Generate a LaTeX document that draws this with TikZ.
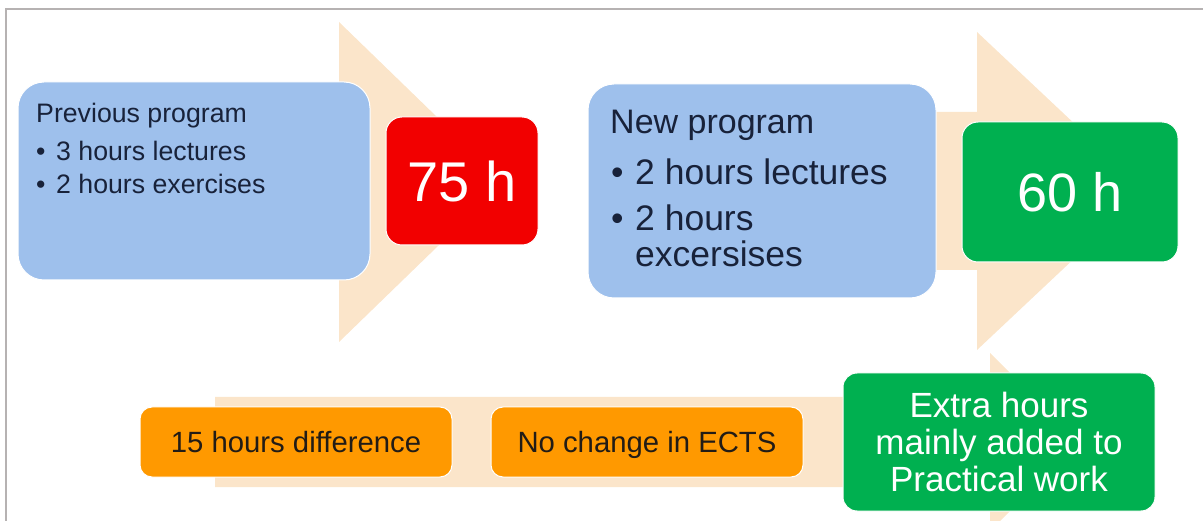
\documentclass[tikz,border=0pt]{standalone}
\usepackage{fontspec}
\setmainfont{Liberation Sans}
\usetikzlibrary{positioning}

\definecolor{peach}{RGB}{251,229,202}
\definecolor{progblue}{RGB}{158,192,236}
\definecolor{progtext}{RGB}{24,34,58}
\definecolor{hoursred}{RGB}{242,0,0}
\definecolor{hoursgreen}{RGB}{0,176,80}
\definecolor{noteorange}{RGB}{255,153,0}
\definecolor{notetext}{RGB}{34,28,22}
\definecolor{frame}{RGB}{182,178,178}

\begin{document}
\begin{tikzpicture}[x=1pt, y=-1pt,
  prog/.style = {fill=progblue, draw=white, line width=1pt, rounded corners=26pt},
  hours/.style = {draw=white, line width=1pt, rounded corners=16pt, text=white},
  note/.style = {fill=noteorange, draw=white, line width=1pt, rounded corners=12pt,
                 minimum width=312pt, minimum height=70pt, text=notetext, text depth=0pt,
                 font=\fontsize{29.3}{35}\selectfont}]
\useasboundingbox (0,0) rectangle (1203,521);
\draw[frame, line width=2pt] (6,521) -- (6,9) -- (1203,9);

% big arrows behind the boxes
\begin{scope}
\clip (0,0) rectangle (1203,521);
\fill[peach] (60,103) -- (339,103) -- (339,22) -- (504,182) -- (339,342) -- (339,261) -- (60,261) -- cycle;
\fill[peach] (640,112) -- (977,112) -- (977,32) -- (1146,191) -- (977,350) -- (977,270) -- (640,270) -- cycle;
\fill[peach] (215,397) -- (990,397) -- (990,353) -- (1080,442) -- (990,531) -- (990,487) -- (215,487) -- cycle;
\end{scope}

\node[prog, minimum width=352pt, minimum height=198pt] (prev) at (194,181) {};
\node[anchor=north west, align=left, inner sep=0pt, text=progtext, font=\fontsize{26.7}{33}\selectfont]
  (prevtext) at (36,103) {Previous program\\[5pt]
  \makebox[20pt][l]{•}3 hours lectures\\
  \makebox[20pt][l]{•}2 hours exercises};
\node[hours, fill=hoursred, minimum width=152pt, minimum height=128pt, font=\fontsize{56}{60}\selectfont]
  (old) at (462,181) {75 h};

\node[prog, minimum width=348pt, minimum height=214pt] (new) at (762,191) {};
\node[anchor=base west, inner sep=0pt, text=progtext, font=\fontsize{34}{36}\selectfont]
  (newhead) at (610,134) {New program};
\node[anchor=north west, align=left, inner sep=0pt, text=progtext, font=\fontsize{35.5}{36.5}\selectfont]
  (newtext) at (611,159) {\makebox[24pt][l]{•}2 hours lectures\\[9pt]
  \makebox[24pt][l]{•}2 hours\\
  \hspace*{24pt}excersises};
\node[hours, fill=hoursgreen, minimum width=216pt, minimum height=140pt, font=\fontsize{54}{58}\selectfont]
  (now) at (1070,192) {60 h};

\node[note] (diff) at (296,442) {15 hours difference};
\node[note] (ects) at (647,442) {No change in ECTS};
\node[hours, fill=hoursgreen, rounded corners=14pt, minimum width=312pt, minimum height=138pt,
  align=center, font=\fontsize{35}{37}\selectfont] (extra) at (999,442)
  {Extra hours\\mainly added to\\Practical work};
\end{tikzpicture}
\end{document}
